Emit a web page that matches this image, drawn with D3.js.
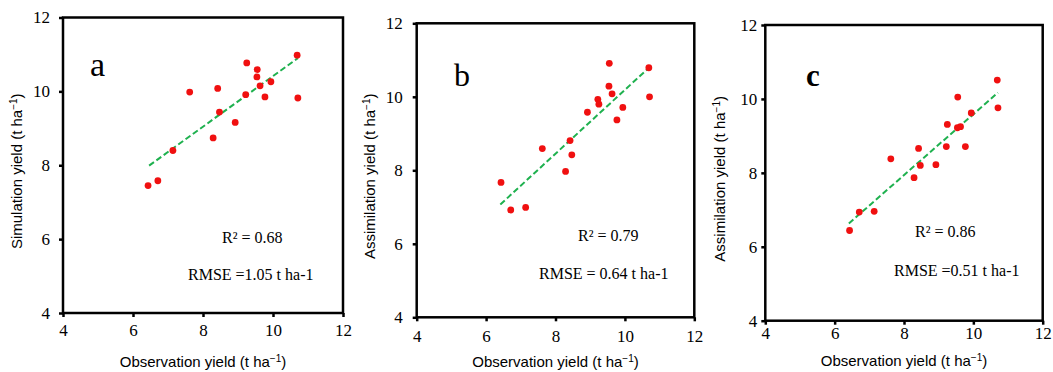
<!DOCTYPE html>
<html>
	<head>
		<title>Yield scatter</title>

		<!--libs-->
		<script src="https://d3js.org/d3.v7.min.js"></script>

		<!--css-->
		<style>
			body {
				margin: 0;
				background: #fff;
			}
			.axtitle {
				font-family: "Liberation Sans", Arial, sans-serif;
				font-size: 15px;
			}
			.note {
				font-family: "Liberation Serif", "Times New Roman", serif;
				font-size: 16px;
			}
		</style>
	</head>
	<body>
		<div id="chart"></div>

		<!--js-->
		<script>
			//data
			var observed = [6.43, 6.71, 7.14, 7.62, 8.42, 8.47, 8.29, 8.92, 9.22, 9.25, 9.54, 9.55, 9.63, 9.77, 9.94, 10.69, 10.71];
			var simA = [7.45, 7.58, 8.40, 9.98, 10.08, 9.44, 8.74, 9.16, 9.91, 10.77, 10.39, 10.59, 10.15, 9.85, 10.26, 10.98, 9.82];
			var assimB = [7.67, 6.92, 6.99, 8.59, 8.81, 8.42, 7.97, 9.58, 9.93, 9.80, 10.29, 10.91, 10.08, 9.37, 9.71, 10.79, 10.00];
			var assimC = [6.44, 6.94, 6.96, 8.38, 8.66, 8.20, 7.87, 8.22, 8.71, 9.31, 9.22, 10.05, 9.25, 8.71, 9.62, 10.51, 9.76];

			// fitted lines, end points
			var trendXA = [6.46, 10.71], trendYA = [7.99, 10.90];
			var trendXB = [6.41, 10.68], trendYB = [7.07, 10.78];
			var trendXC = [6.41, 10.71], trendYC = [6.63, 10.17];

			var axisTicks = [4, 6, 8, 10, 12];
			var panelLetters = ["a", "b", "c"];
			var yTitles = ["Simulation yield", "Assimilation yield", "Assimilation yield"];
			var r2Labels = ["R\u00b2 = 0.68", "R\u00b2 = 0.79", "R\u00b2 = 0.86"];
			var rmseLabels = ["RMSE =1.05 t ha-1", "RMSE = 0.64 t ha-1", "RMSE =0.51 t ha-1"];

			var width = 1053, height = 372;

			var svg = d3.select("#chart").append("svg")
				.attr("width", width)
				.attr("height", height);

			// layout for each panel (pixel boxes)
			var panels = [
				{ x0: 63, x1: 343, y0: 17.5, y1: 313, sim: simA, tx: trendXA, ty: trendYA,
				  xPad: 7, yPad: 9, letter: [90, 76, 34, "normal"], r2: [222, 243], rmse: [188, 280], ytx: 22, xtb: 367 },
				{ x0: 416.7, x1: 694.3, y0: 23.3, y1: 317.3, sim: assimB, tx: trendXB, ty: trendYB,
				  xPad: 9, yPad: 10, letter: [454, 86, 32, "normal"], r2: [578, 241], rmse: [539, 279], ytx: 375, xtb: 367 },
				{ x0: 765.3, x1: 1042.7, y0: 25, y1: 320.7, sim: assimC, tx: trendXC, ty: trendYC,
				  xPad: 2, yPad: 4, letter: [806, 86, 31, "bold"], r2: [915, 237], rmse: [894, 276], ytx: 725, xtb: 366 }
			];

			panels.forEach(function(p, i) {
				var x = d3.scaleLinear().domain([4, 12]).range([p.x0, p.x1]);
				var y = d3.scaleLinear().domain([4, 12]).range([p.y1, p.y0]);

				var g = svg.append("g").attr("class", "panel");

				//__frame
				g.append("rect")
					.attr("x", p.x0)
					.attr("y", p.y0)
					.attr("width", p.x1 - p.x0)
					.attr("height", p.y1 - p.y0)
					.attr("fill", "none")
					.attr("stroke", "#000")
					.attr("stroke-width", 2.5);

				//__axes
				var xAxis = g.append("g")
					.attr("transform", "translate(0," + p.y1 + ")")
					.call(d3.axisBottom(x).tickValues(axisTicks).tickSize(4).tickPadding(p.xPad));
				var yAxis = g.append("g")
					.attr("transform", "translate(" + p.x0 + ",0)")
					.call(d3.axisLeft(y).tickValues(axisTicks).tickSize(4).tickPadding(p.yPad));

				[xAxis, yAxis].forEach(function(a) {
					a.attr("font-family", "Liberation Serif, Times New Roman, serif").attr("font-size", 17);
					a.select(".domain").remove();
					a.selectAll(".tick line").attr("stroke", "#000").attr("stroke-width", 2.5);
					a.selectAll(".tick text").attr("fill", "#000");
				});

				//__trend line
				g.append("line")
					.attr("x1", x(p.tx[0])).attr("y1", y(p.ty[0]))
					.attr("x2", x(p.tx[1])).attr("y2", y(p.ty[1]))
					.attr("stroke", "#1fb14f")
					.attr("stroke-width", 2)
					.attr("stroke-dasharray", "6,3");

				//__points
				g.selectAll("circle.pt")
					.data(observed)
					.enter().append("circle")
					.attr("class", "pt")
					.attr("cx", function(d) { return x(d); })
					.attr("cy", function(d, j) { return y(p.sim[j]); })
					.attr("r", 3.4)
					.attr("fill", "#f01010");

				//__labels
				g.append("text")
					.attr("x", p.letter[0]).attr("y", p.letter[1])
					.attr("font-family", "Liberation Serif, serif")
					.attr("font-size", p.letter[2])
					.attr("font-weight", p.letter[3])
					.text(panelLetters[i]);

				g.append("text").attr("class", "note")
					.attr("x", p.r2[0]).attr("y", p.r2[1])
					.text(r2Labels[i]);

				g.append("text").attr("class", "note")
					.attr("x", p.rmse[0]).attr("y", p.rmse[1])
					.text(rmseLabels[i]);

				// x title
				var xt = g.append("text").attr("class", "axtitle")
					.attr("x", (p.x0 + p.x1) / 2)
					.attr("y", p.xtb)
					.attr("text-anchor", "middle");
				xt.append("tspan").text("Observation yield (t ha");
				xt.append("tspan").attr("dy", -5).attr("font-size", 10).text("\u22121");
				xt.append("tspan").attr("dy", 5).text(")");

				// y title
				var yt = g.append("text").attr("class", "axtitle")
					.attr("transform", "translate(" + p.ytx + "," + ((p.y0 + p.y1) / 2 + 6) + ") rotate(-90)")
					.attr("text-anchor", "middle");
				yt.append("tspan").text(yTitles[i] + " (t ha");
				yt.append("tspan").attr("dy", -5).attr("font-size", 10).text("\u22121");
				yt.append("tspan").attr("dy", 5).text(")");
			});
		</script>
		<!--js-->
	</body>
</html>
